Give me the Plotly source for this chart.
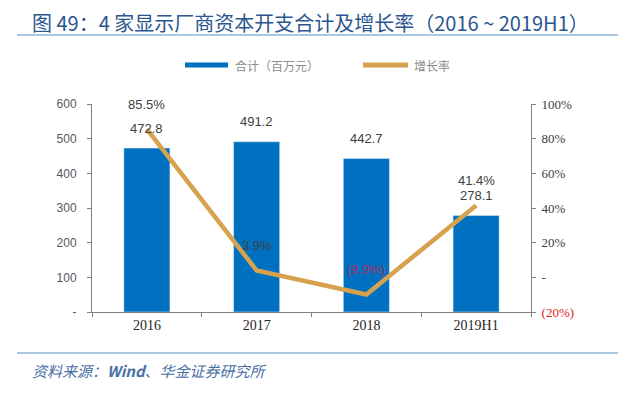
import plotly.graph_objects as go

# ---- data ----
categories = ["2016", "2017", "2018", "2019H1"]
capex = [472.8, 491.2, 442.7, 278.1]          # 合计（百万元）
growth = [0.855, 0.039, -0.099, 0.414]          # 增长率
capex_labels = ["472.8", "491.2", "442.7", "278.1"]
growth_labels = ["85.5%", "3.9%", "(9.9%)", "41.4%"]
growth_label_colors = ["#404040", "#404040", "#B0306A", "#404040"]
left_ticks = [0, 100, 200, 300, 400, 500, 600]
left_ticktext = ["-", "100", "200", "300", "400", "500", "600"]
right_ticks = [-0.2, 0, 0.2, 0.4, 0.6, 0.8, 1.0]
right_ticktext = ['<span style="color:#E02020">(20%)</span>', "-", "20%", "40%", "60%", "80%", "100%"]

title_text = "图 49：4 家显示厂商资本开支合计及增长率（2016 ~ 2019H1）"
source_text = "<i>资料来源：</i><b><i>Wind</i></b><i>、华金证券研究所</i>"

BAR_COLOR = "#0070C0"
LINE_COLOR = "#D6A24E"

# plot-area pixel geometry in the page (for converting overlay positions)
L, R, T, B = 92, 531, 104, 312
W, H = 640, 394
OFF = 8  # page body margin


def px_x(px):
    return (px - L) / (R - L)


def px_y(py):
    return (B - py) / (B - T)


fig = go.Figure()
fig.add_trace(go.Bar(x=categories, y=capex, marker_color=BAR_COLOR, width=0.42,
                     name="合计（百万元）", showlegend=False, hoverinfo="skip"))
fig.add_trace(go.Scatter(x=categories, y=growth, yaxis="y2", mode="lines",
                         line=dict(color=LINE_COLOR, width=4.5), name="增长率",
                         showlegend=False, hoverinfo="skip"))

annotations = []
for i, (v, t) in enumerate(zip(capex, capex_labels)):
    annotations.append(dict(x=i, y=v, xref="x", yref="y", text=t, showarrow=False,
                            yshift=20, font=dict(family="Liberation Sans", size=13, color="#404040")))
for i, (v, t, col) in enumerate(zip(growth, growth_labels, growth_label_colors)):
    annotations.append(dict(x=i, y=v, xref="x", yref="y2", text=t, showarrow=False,
                            yshift=25, font=dict(family="Liberation Sans", size=13, color=col)))

# title
annotations.append(dict(x=px_x(30), y=px_y(22), xref="paper", yref="paper", text=title_text,
                        showarrow=False, xanchor="left", yanchor="middle",
                        font=dict(family="Noto Sans CJK SC, Liberation Sans", size=20, color="#2B5690")))
# legend texts
annotations.append(dict(x=px_x(233), y=px_y(65), xref="paper", yref="paper", text="合计（百万元）",
                        showarrow=False, xanchor="left", yanchor="middle",
                        font=dict(family="Noto Sans CJK SC", size=12, color="#8C8C8C")))
annotations.append(dict(x=px_x(412), y=px_y(65), xref="paper", yref="paper", text="增长率",
                        showarrow=False, xanchor="left", yanchor="middle",
                        font=dict(family="Noto Sans CJK SC", size=12, color="#8C8C8C")))
# source
annotations.append(dict(x=px_x(30), y=px_y(370), xref="paper", yref="paper", text=source_text,
                        showarrow=False, xanchor="left", yanchor="middle",
                        font=dict(family="Noto Sans CJK SC", size=15, color="#4A6FA5")))

shapes = [
    dict(type="line", xref="paper", yref="paper", x0=px_x(17), x1=px_x(618), y0=px_y(35), y1=px_y(35),
         line=dict(color="#5B8CC4", width=1.2)),
    dict(type="line", xref="paper", yref="paper", x0=px_x(17), x1=px_x(618), y0=px_y(353), y1=px_y(353),
         line=dict(color="#5B8CC4", width=1.2)),
    dict(type="line", xref="paper", yref="paper", x0=px_x(185), x1=px_x(228), y0=px_y(65), y1=px_y(65),
         line=dict(color=BAR_COLOR, width=5)),
    dict(type="line", xref="paper", yref="paper", x0=px_x(363), x1=px_x(408), y0=px_y(65), y1=px_y(65),
         line=dict(color=LINE_COLOR, width=5)),
]

fig.update_layout(
    width=W, height=H,
    margin=dict(l=L - OFF, r=W - R + OFF, t=T - OFF, b=H - B + OFF, pad=0),
    paper_bgcolor="white", plot_bgcolor="white",
    showlegend=False,
    annotations=annotations, shapes=shapes,
    xaxis=dict(type="category", range=[-0.5, len(categories) - 0.5],
               showline=True, linecolor="#808080", linewidth=1,
               ticks="outside", tickson="boundaries", ticklen=4, tickcolor="#808080",
               tickfont=dict(family="Liberation Serif", size=14, color="#262626"),
               showgrid=False, zeroline=False, tickangle=0),
    yaxis=dict(range=[0, 600], tickvals=left_ticks, ticktext=left_ticktext,
               showline=True, linecolor="#808080", linewidth=1, ticks="outside", ticklen=4,
               tickcolor="#808080", showgrid=False, zeroline=False, ticklabelstandoff=8,
               tickfont=dict(family="Liberation Sans", size=12, color="#595959")),
    yaxis2=dict(range=[-0.2, 1.0], tickvals=right_ticks, ticktext=right_ticktext,
                overlaying="y", side="right", showline=True, linecolor="#808080", linewidth=1,
                ticks="outside", ticklen=4, tickcolor="#808080", showgrid=False, zeroline=False,
                ticklabelstandoff=3,
                tickfont=dict(family="Liberation Serif", size=13, color="#404040")),
)

fig.write_html("out.html")
